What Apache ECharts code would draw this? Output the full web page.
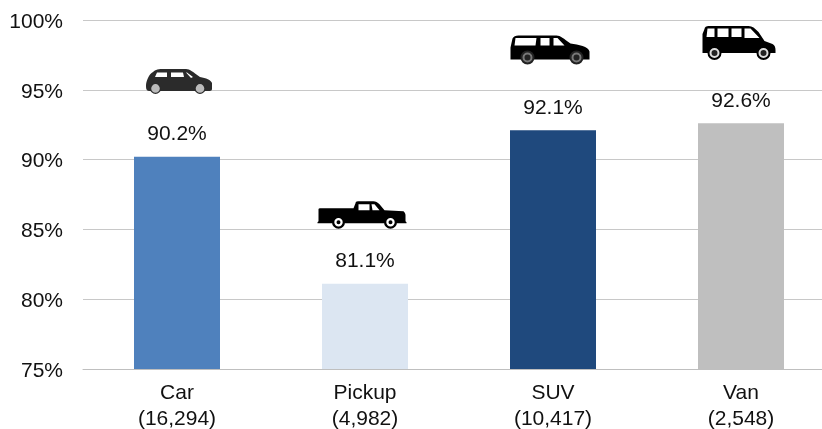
<!DOCTYPE html>
<html>
<head>
<meta charset="utf-8">
<style>
  html, body { margin: 0; padding: 0; background: #fff; }
  #chart { width: 822px; height: 429px; }
</style>
</head>
<body>
<div id="chart"></div>
<script src="https://cdn.jsdelivr.net/npm/echarts@6/dist/echarts.min.js"></script>
<script>
var categories = ['Car', 'Pickup', 'SUV', 'Van'];
var counts = ['16,294', '4,982', '10,417', '2,548'];
var shares = [90.2, 81.1, 92.1, 92.6];
var barColors = ['#4f81bd', '#dce6f2', '#1f497d', '#bfbfbf'];
// where each vehicle icon floats, read on the value axis
var iconLevels = [95.6, 86.05, 97.85, 98.35];

function circle(cx, cy, r) {
  return 'M' + (cx - r) + ' ' + cy + 'A' + r + ' ' + r + ' 0 1 0 ' + (cx + r) + ' ' + cy +
    'A' + r + ' ' + r + ' 0 1 0 ' + (cx - r) + ' ' + cy + 'Z';
}

// icons drawn in their own little box, w/h = box size, dx = shift from bar centre
var icons = [
  {
    w: 66, h: 25, dx: 2,
    layers: [
      ['#2b2b2b', 'M0 17C0 12 3 5 7 3C9 0.5 13 0 18 0L40 0C44 0 47 3 54 8C60 9 65 11 66 14L66 20C66 22 64 22 62 22L4 22C1 22 0 21 0 17Z'],
      ['#fff', 'M11 3.5L21 3.5L21 8L9 8ZM25 3.5L37 3.5L38 8L25 8ZM40 3.5L41 3.5L47 8L45 9Z'],
      ['#2b2b2b', circle(9.5, 19.5, 5.5) + circle(54, 19.5, 5.5)],
      ['#bbb', circle(9.5, 19.5, 4.3) + circle(54, 19.5, 4.3)]
    ]
  },
  {
    w: 89, h: 27, dx: -3,
    layers: [
      ['#000', 'M1 8C1 7 2 7 3 7L36 7L38 2C38 0 40 0 42 0L56 0C58 0 60 1 62 3L67 9L86 10C87 11 88 12 88 14L88 20L89 21L89 22L0 22L0 21L1 20Z'],
      ['#fff', 'M41 3L52 3L52 9L41 9ZM54 3L57 3L62 9L55 9Z'],
      ['#000', circle(21, 21, 6.5) + circle(73, 21, 6.5)],
      ['#fff', circle(21, 21, 4.2) + circle(73, 21, 4.2)],
      ['#000', circle(21, 21, 2) + circle(73, 21, 2)]
    ]
  },
  {
    w: 79, h: 29, dx: -3,
    layers: [
      ['#000', 'M2 3C3 1 5 0 8 0L46 0C50 0 53 3 60 8C68 9 78 11 79 16L79 24L0 24L0 12Z'],
      ['#fff', 'M5 2.5L26 2.5L25 10L4 10ZM30 2.5L39 2.5L39 10L30 10ZM43 2.5L47 2.5L54 10L43 10Z'],
      ['#222', circle(17, 22, 7) + circle(66, 22, 7)],
      ['#777', circle(17, 22, 5) + circle(66, 22, 5)],
      ['#222', circle(17, 22, 3) + circle(66, 22, 3)]
    ]
  },
  {
    w: 73, h: 34, dx: -2,
    layers: [
      ['#000', 'M2 3C2 1 4 0 6 0L46 0C50 0 52 2 56 6L62 15L70 18C72 19 73 21 73 24L73 27L0 27L0 8Z'],
      ['#fff', 'M5 2.5L12 2.5L12 11L4 11ZM15 2.5L26 2.5L26 11L15 11ZM29 2.5L39 2.5L39 11L29 11ZM42 2.5L48 2.5L57 12L42 12Z'],
      ['#000', circle(12, 27, 7) + circle(61, 27, 7)],
      ['#ddd', circle(12, 27, 5) + circle(61, 27, 5)],
      ['#222', circle(12, 27, 3) + circle(61, 27, 3)]
    ]
  }
];

var chartIntance = echarts.init(document.getElementById('chart'));
var fontName = '"Liberation Sans", Arial, sans-serif';

var option = {
  animation: false,
  backgroundColor: '#fff',
  grid: { left: 83, top: 20, width: 752, height: 349, outerBoundsMode: 'none' },
  xAxis: {
    type: 'category',
    data: categories,
    axisTick: { show: false },
    axisLine: { lineStyle: { color: '#bfbfbf', width: 1 } },
    axisLabel: {
      interval: 0,
      margin: 11,
      color: '#111',
      fontFamily: fontName,
      fontSize: 21,
      lineHeight: 26,
      formatter: function (value, i) {
        return value + '\n(' + counts[i] + ')';
      }
    }
  },
  yAxis: {
    type: 'value',
    min: 75,
    max: 100,
    interval: 5,
    axisLine: { show: false },
    axisTick: { show: false },
    splitLine: { lineStyle: { color: '#c8c8c8', width: 1 } },
    axisLabel: {
      margin: 20,
      formatter: '{t|{value}%}',
      rich: {
        // pushes the tick text a little below its gridline
        t: {
          color: '#111',
          fontFamily: fontName,
          fontSize: 21,
          padding: [4, 0, 0, 0]
        }
      }
    }
  },
  series: [
    {
      type: 'bar',
      barWidth: 86,
      data: shares.map(function (v, i) {
        return { value: v, itemStyle: { color: barColors[i] } };
      }),
      label: {
        show: true,
        position: 'top',
        distance: 12,
        color: '#111',
        fontFamily: fontName,
        fontSize: 21,
        formatter: function (p) {
          return p.value.toFixed(1) + '%';
        }
      }
    },
    {
      type: 'custom',
      silent: true,
      clip: false,
      z: 5,
      data: iconLevels.map(function (v, i) {
        return [i, v];
      }),
      renderItem: function (params, api) {
        var icon = icons[params.dataIndex];
        var pos = api.coord([api.value(0), api.value(1)]);
        return {
          type: 'group',
          x: pos[0] + icon.dx - icon.w / 2,
          y: pos[1] - icon.h / 2,
          children: icon.layers.map(function (layer) {
            return {
              type: 'path',
              shape: { pathData: layer[1] },
              style: { fill: layer[0] }
            };
          })
        };
      }
    }
  ]
};
chartIntance.setOption(option);
</script>
</body>
</html>
